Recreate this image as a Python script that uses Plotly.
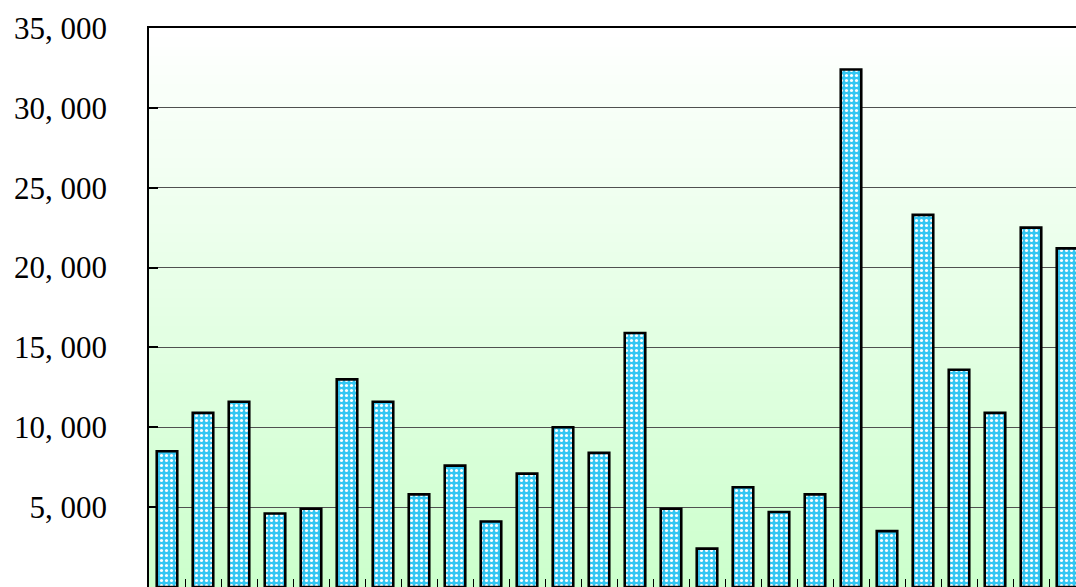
import plotly.graph_objects as go

categories = ["1", "2", "3", "4", "5", "6", "7", "8", "9", "10", "11", "12", "13",
              "14", "15", "16", "17", "18", "19", "20", "21", "22", "23", "24", "25", "26"]
values = [8500, 10900, 11600, 4600, 4900, 13000, 11600, 5800, 7600, 4100, 7100, 10000, 8400,
          15900, 4900, 2400, 6250, 4700, 5800, 32400, 3500, 23300, 13600, 10900, 22500, 21200]
y_tickvals = [5000, 10000, 15000, 20000, 25000, 30000, 35000]
y_ticktext = ["5, 000", "10, 000", "15, 000", "20, 000", "25, 000", "30, 000", "35, 000"]

fig = go.Figure()
fig.add_trace(go.Bar(
    x=categories, y=values,
    marker=dict(
        color="#33C6F2",
        line=dict(color="black", width=2.6),
        pattern=dict(shape=".", fgcolor="#FFFFFF", bgcolor="#33C6F2",
                     size=5, solidity=0.3, fillmode="replace"),
    ),
    hoverinfo="x+y",
))

# vertical background gradient (white at top -> light green at bottom)
n = 60
top = (255, 255, 255)
bot = (204, 255, 204)
shapes = []
for i in range(n):
    t = (i + 0.5) / n
    c = tuple(round(bot[k] + (top[k] - bot[k]) * t) for k in range(3))
    shapes.append(dict(type="rect", xref="paper", yref="paper",
                       x0=0, x1=1, y0=i / n, y1=(i + 1) / n + 0.002,
                       fillcolor="rgb(%d,%d,%d)" % c, line=dict(width=0),
                       layer="below"))

fig.update_layout(
    width=1076, height=587,
    margin=dict(l=149, r=0, t=28, b=0),
    paper_bgcolor="white", plot_bgcolor="rgba(0,0,0,0)",
    bargap=0.43,
    showlegend=False,
    shapes=shapes,
    font=dict(family="Liberation Serif", color="black"),
)
fig.update_xaxes(
    type="category", range=[-0.5, 25.25],
    showticklabels=False, showgrid=False,
    ticks="inside", tickson="boundaries", ticklen=8, tickcolor="black", tickwidth=1,
    showline=True, linecolor="black", linewidth=1.5, mirror=True,
    zeroline=False,
)
fig.update_yaxes(
    range=[0, 35000],
    tickvals=y_tickvals, ticktext=y_ticktext,
    tickfont=dict(family="Liberation Serif", size=31, color="black"),
    ticks="inside", ticklen=9, tickcolor="black", tickwidth=1.5,
    ticklabelstandoff=34,
    showgrid=True, gridcolor="#505050", gridwidth=1,
    showline=True, linecolor="black", linewidth=1.5,
    zeroline=False,
)

fig.write_html(
    "out.html",
    config={"displayModeBar": False},
    post_script="document.body.style.margin='0';document.body.style.overflow='hidden';",
)
